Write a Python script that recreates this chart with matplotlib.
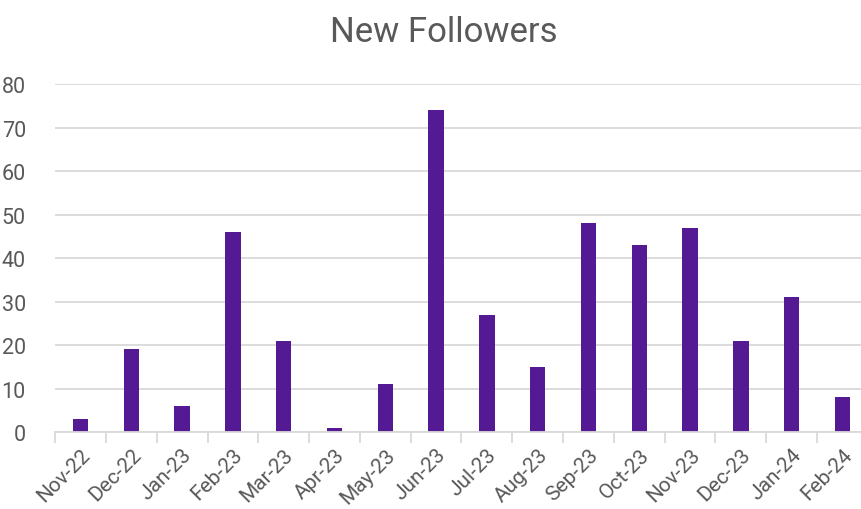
import matplotlib
matplotlib.use("Agg")
import matplotlib.pyplot as plt
from matplotlib.ticker import FixedLocator

months = ["Nov-22", "Dec-22", "Jan-23", "Feb-23", "Mar-23", "Apr-23", "May-23", "Jun-23",
          "Jul-23", "Aug-23", "Sep-23", "Oct-23", "Nov-23", "Dec-23", "Jan-24", "Feb-24"]
followers = [3, 19, 6, 46, 21, 1, 11, 74, 27, 15, 48, 43, 47, 21, 31, 8]
y_ticks = [0, 10, 20, 30, 40, 50, 60, 70, 80]

plt.rcParams['font.family'] = ['Roboto', 'DejaVu Sans']

fig = plt.figure(figsize=(8.61, 5.10), dpi=100)
ax = fig.add_axes([0.064, 0.151, 0.944, 0.682])

x = list(range(len(months)))
ax.bar(x, followers, width=0.3, color="#531a93", zorder=3)

ax.set_xlim(-0.5, len(months) - 0.5)
ax.set_ylim(0, 80)
ax.set_yticks(y_ticks)
ax.yaxis.grid(True, color="#d9d9d9", linewidth=1.3, zorder=0)
ax.tick_params(axis='y', length=0, labelsize=15.5, labelcolor="#595959", pad=21)

# category labels centred on bars, tick marks on category boundaries
ax.set_xticks(x)
ax.set_xticklabels(months, rotation=45, ha='right', rotation_mode='anchor',
                   fontsize=15, color="#595959")
ax.tick_params(axis='x', which='major', length=0, pad=9)
ax.xaxis.set_minor_locator(FixedLocator([i - 0.5 for i in range(len(months) + 1)]))
ax.tick_params(axis='x', which='minor', length=8, width=1.3, color="#d9d9d9")

for s in ["top", "right", "left"]:
    ax.spines[s].set_visible(False)
ax.spines["bottom"].set_color("#d9d9d9")
ax.spines["bottom"].set_linewidth(1.3)
ax.spines["bottom"].set_zorder(4)

fig.text(0.515, 0.937, "New Followers", ha='center', va='center', fontsize=25, color="#595959")

fig.savefig("out.png", dpi=100)
